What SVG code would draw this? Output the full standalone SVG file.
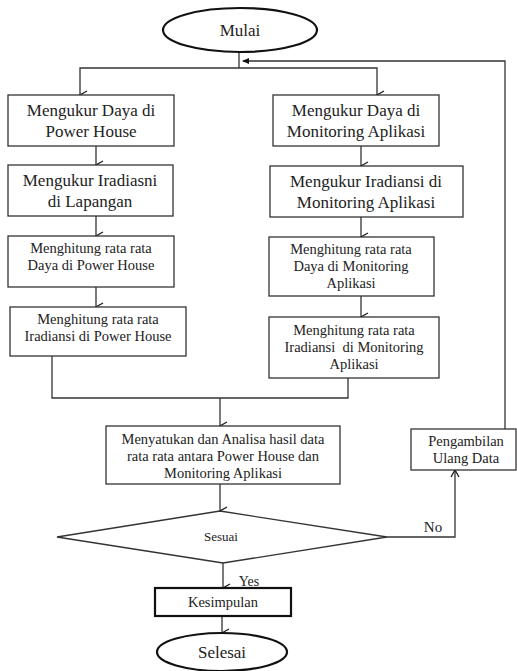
<svg xmlns="http://www.w3.org/2000/svg" width="517" height="671" viewBox="0 0 517 671">
<style>
.box{fill:#fff;stroke:#333;stroke-width:1.3}
.thick{fill:#fff;stroke:#111;stroke-width:2.2}
.ln{fill:none;stroke:#333;stroke-width:1.3}
text{font-family:"Liberation Serif","Times New Roman",serif;fill:#222;text-anchor:middle}
.f17{font-size:17px}
.f14{font-size:14.5px}
.f13{font-size:13px}
.f15{font-size:15px}
</style>
<defs>
<marker id="arr" markerWidth="10" markerHeight="10" refX="5" refY="9" orient="auto-start-reverse" markerUnits="userSpaceOnUse" viewBox="0 0 10 10">
<path d="M1,2 L5,9 L9,2" fill="none" stroke="#222" stroke-width="1.4"/>
</marker>
<marker id="arrV" markerWidth="10" markerHeight="10" refX="5" refY="1" markerUnits="userSpaceOnUse" viewBox="0 0 10 10">
<path d="M1,8 L5,1 L9,8" fill="none" stroke="#222" stroke-width="1.4"/>
</marker>
<marker id="tri" markerWidth="8" markerHeight="8" refX="1" refY="4" markerUnits="userSpaceOnUse" viewBox="0 0 8 8">
<path d="M0,4 L7,1 L7,7 Z" fill="#111"/>
</marker>
</defs>

<g id="connectors">
<line class="ln" x1="239" y1="52" x2="239" y2="68"/>
<polyline class="ln" points="80,95 80,68 377,68 377,95" marker-start="url(#arr)" marker-end="url(#arr)"/>
<line class="ln" x1="96" y1="146" x2="96" y2="165" marker-end="url(#arr)"/>
<line class="ln" x1="96" y1="216" x2="96" y2="236" marker-end="url(#arr)"/>
<line class="ln" x1="96" y1="287" x2="96" y2="307" marker-end="url(#arr)"/>
<line class="ln" x1="361" y1="146" x2="361" y2="166" marker-end="url(#arr)"/>
<line class="ln" x1="361" y1="217" x2="361" y2="237" marker-end="url(#arr)"/>
<line class="ln" x1="361" y1="296" x2="361" y2="317" marker-end="url(#arr)"/>
<polyline class="ln" points="52,356 52,398 348,398 348,378"/>
<line class="ln" x1="220" y1="398" x2="220" y2="426" marker-end="url(#arr)"/>
<line class="ln" x1="220" y1="484" x2="220" y2="511" marker-end="url(#arr)"/>
<polyline class="ln" points="387,537 455,537 455,470" marker-end="url(#arrV)"/>
<polyline class="ln" points="505,429 505,61 243,61" marker-end="url(#tri)"/>
<line class="ln" x1="223" y1="563" x2="223" y2="588" marker-end="url(#arr)"/>
<line class="ln" x1="222" y1="616" x2="222" y2="633" marker-end="url(#arr)"/>
<text class="f14" x="249" y="586" style="font-size:14px">Yes</text>
<text class="f15" x="433" y="532">No</text>
</g>

<g id="mulai">
<ellipse class="thick" cx="240" cy="30" rx="77" ry="22"/>
<text class="f17" x="240" y="36">Mulai</text>
</g>

<g id="ukur-daya-ph">
<rect class="box" x="8" y="95" width="166" height="51"/>
<text class="f17" x="91" y="116">Mengukur Daya di</text>
<text class="f17" x="91" y="137">Power House</text>
</g>

<g id="ukur-irad-lap">
<rect class="box" x="8" y="165" width="165" height="51"/>
<text class="f17" x="90" y="186">Mengukur Iradiasni</text>
<text class="f17" x="90" y="207">di Lapangan</text>
</g>

<g id="hitung-daya-ph">
<rect class="box" x="8" y="236" width="166" height="51"/>
<text class="f14" x="91" y="253">Menghitung rata rata</text>
<text class="f14" x="91" y="270">Daya di Power House</text>
</g>

<g id="hitung-irad-ph">
<rect class="box" x="10" y="307" width="176" height="49"/>
<text class="f14" x="98" y="324">Menghitung rata rata</text>
<text class="f14" x="98" y="341">Iradiansi di Power House</text>
</g>

<g id="ukur-daya-ma">
<rect class="box" x="273" y="95" width="166" height="51"/>
<text class="f17" x="356" y="116">Mengukur Daya di</text>
<text class="f17" x="356" y="137">Monitoring Aplikasi</text>
</g>

<g id="ukur-irad-ma">
<rect class="box" x="270" y="166" width="193" height="51"/>
<text class="f17" x="366" y="187">Mengukur Iradiansi di</text>
<text class="f17" x="366" y="208">Monitoring Aplikasi</text>
</g>

<g id="hitung-daya-ma">
<rect class="box" x="269" y="237" width="165" height="59"/>
<text class="f14" x="351" y="254">Menghitung rata rata</text>
<text class="f14" x="351" y="271">Daya di Monitoring</text>
<text class="f14" x="351" y="288">Aplikasi</text>
</g>

<g id="hitung-irad-ma">
<rect class="box" x="269" y="317" width="170" height="61"/>
<text class="f14" x="354" y="335">Menghitung rata rata</text>
<text class="f14" x="354" y="352" xml:space="preserve">Iradiansi  di Monitoring</text>
<text class="f14" x="354" y="369">Aplikasi</text>
</g>

<g id="analisa">
<rect class="box" x="106" y="426" width="234" height="58"/>
<text class="f14" x="223" y="444">Menyatukan dan Analisa hasil data</text>
<text class="f14" x="223" y="461">rata rata antara Power House dan</text>
<text class="f14" x="223" y="478">Monitoring Aplikasi</text>
</g>

<g id="sesuai">
<polygon class="box" points="220,511 387,537 223,563 57,537"/>
<text class="f13" x="221" y="541">Sesuai</text>
</g>

<g id="pengambilan">
<rect class="box" x="411" y="429" width="105" height="41"/>
<text class="f14" x="466" y="446">Pengambilan</text>
<text class="f14" x="466" y="463">Ulang Data</text>
</g>

<g id="kesimpulan">
<rect class="thick" x="155" y="588" width="136" height="28"/>
<text class="f14" x="223" y="607">Kesimpulan</text>
</g>

<g id="selesai">
<ellipse class="thick" cx="222" cy="652" rx="65" ry="19"/>
<text class="f17" x="222" y="658">Selesai</text>
</g>
</svg>
